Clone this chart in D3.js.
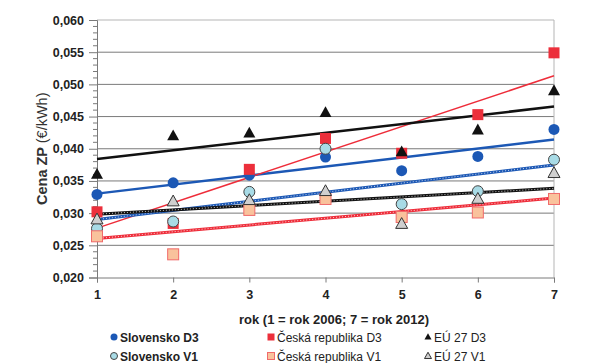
<!DOCTYPE html>
<html>
<head>
<meta charset="utf-8">
<script src="https://cdn.jsdelivr.net/npm/d3@7"></script>
<style>
  body { margin: 0; background: #fff; }
  text { font-family: "Liberation Sans", Arial, sans-serif; }
</style>
</head>
<body>
<svg id="price_chart" width="600" height="363"></svg>
<script>
// values
const years = [1, 2, 3, 4, 5, 6, 7];
const sk_d3 = [0.0329, 0.0347, 0.0359, 0.0387, 0.0366, 0.0388, 0.0430];
const cz_d3 = [0.0302, 0.0284, 0.0368, 0.0416, 0.0393, 0.0453, 0.0549];
const eu_d3 = [0.0360, 0.0420, 0.0424, 0.0456, 0.0395, 0.0429, 0.0490];
const sk_v1 = [0.0276, 0.0287, 0.0333, 0.0400, 0.0314, 0.0334, 0.0383];
const cz_v1 = [0.0264, 0.0236, 0.0305, 0.0322, 0.0294, 0.0301, 0.0322];
const eu_v1 = [0.0290, 0.0318, 0.0320, 0.0334, 0.0283, 0.0322, 0.0362];
const series_names = ["Slovensko D3", "Česká republika D3", "EÚ 27 D3",
                      "Slovensko V1", "Česká republika V1", "EÚ 27 V1"];
const y_ticks = [0.020, 0.025, 0.030, 0.035, 0.040, 0.045, 0.050, 0.055, 0.060];

const svg_price = d3.select("svg#price_chart");
const price_margin = { left: 97, right: 46, top: 20, bottom: 85.5 };
const price_width = svg_price.attr("width") - price_margin.left - price_margin.right;
const price_height = svg_price.attr("height") - price_margin.top - price_margin.bottom;

const series = [
  { name: series_names[0], values: sk_d3, shape: "circle", fill: "#1c58b5", stroke: "#1c58b5", line: "#1c58b5", lw: 2.5, dotted: false, bold: true },
  { name: series_names[1], values: cz_d3, shape: "square", fill: "#ec2f3b", stroke: "#ec2f3b", line: "#ee2d3a", lw: 1.5, dotted: false, bold: false },
  { name: series_names[2], values: eu_d3, shape: "triangle", fill: "#111", stroke: "#111", line: "#111", lw: 2.5, dotted: false, bold: false },
  { name: series_names[3], values: sk_v1, shape: "circle", fill: "#a8dbe6", stroke: "#444", line: "#1c58b5", lw: 3, dotted: true, bold: true },
  { name: series_names[4], values: cz_v1, shape: "square", fill: "#f9c29c", stroke: "#f06a6a", line: "#ee2d3a", lw: 3, dotted: true, bold: false },
  { name: series_names[5], values: eu_v1, shape: "triangle", fill: "#cfcfcf", stroke: "#333", line: "#111", lw: 3, dotted: true, bold: false }
];

const x_scale = d3.scaleLinear([1, 7], [0, price_width]);
const y_scale = d3.scaleLinear([0.020, 0.060], [price_height, 0]);
const fmt = d => d3.format(".3f")(d).replace(".", ",");

const chart = svg_price.append("g")
  .attr("transform", `translate(${price_margin.left}, ${price_margin.top})`);

// gridlines
chart.selectAll("line.grid")
  .data(y_ticks.slice(1, -1))
  .join("line")
  .attr("class", "grid")
  .attr("x1", 0).attr("x2", price_width)
  .attr("y1", d => y_scale(d)).attr("y2", d => y_scale(d))
  .attr("stroke", "#7a7a7a").attr("stroke-width", 1);

// plot border
chart.append("line")
  .attr("x1", 0).attr("x2", price_width).attr("y1", 0).attr("y2", 0)
  .attr("stroke", "#b5b5b5");
chart.append("line")
  .attr("x1", price_width).attr("x2", price_width).attr("y1", 0).attr("y2", price_height)
  .attr("stroke", "#b5b5b5");

// y axis
const y_axis = chart.append("g")
  .call(d3.axisLeft(y_scale).tickValues(y_ticks).tickFormat(fmt).tickSize(8).tickPadding(5));
y_axis.select(".domain").attr("stroke", "#7a7a7a");
y_axis.selectAll(".tick line").attr("stroke", "#7a7a7a");
y_axis.selectAll(".tick text")
  .attr("font-size", "12.5px").attr("font-weight", "bold").attr("fill", "#222");
const minor_ticks = d3.range(0.020, 0.0601, 0.001).filter(d => Math.round(d * 1000) % 5 !== 0);
chart.selectAll("line.minor")
  .data(minor_ticks)
  .join("line")
  .attr("class", "minor")
  .attr("x1", -4).attr("x2", 0)
  .attr("y1", d => y_scale(d)).attr("y2", d => y_scale(d))
  .attr("stroke", "#7a7a7a");

// x axis
const x_axis = chart.append("g")
  .attr("transform", `translate(0, ${price_height})`)
  .call(d3.axisBottom(x_scale).tickValues(years).tickFormat(d3.format("d")).tickSize(5).tickPadding(8));
x_axis.select(".domain").attr("stroke", "#7a7a7a");
x_axis.selectAll(".tick line").attr("stroke", "#7a7a7a");
x_axis.selectAll(".tick text")
  .attr("font-size", "12.5px").attr("font-weight", "bold").attr("fill", "#222");

// axis titles
const y_title = svg_price.append("text")
  .attr("transform", `translate(47, ${price_margin.top + price_height / 2}) rotate(-90)`)
  .attr("text-anchor", "middle")
  .attr("font-size", "14.5px")
  .attr("fill", "#333");
y_title.append("tspan").attr("font-weight", "bold").text("Cena ZP ");
y_title.append("tspan").text("(€/kWh)");

svg_price.append("text")
  .attr("x", 334).attr("y", 324)
  .attr("text-anchor", "middle")
  .attr("font-size", "13px").attr("font-weight", "bold")
  .attr("fill", "#222")
  .text("rok (1 = rok 2006; 7 = rok 2012)");

// trendlines (least squares, as in the spreadsheet)
function trend(values) {
  const mx = d3.mean(years), my = d3.mean(values);
  const slope = d3.sum(years, (x, i) => (x - mx) * (values[i] - my)) / d3.sum(years, x => (x - mx) ** 2);
  return [1, 7].map(x => [x, my + slope * (x - mx)]);
}
const trend_line = d3.line().x(d => x_scale(d[0])).y(d => y_scale(d[1]));

series.forEach(s => {
  chart.append("path")
    .attr("d", trend_line(trend(s.values)))
    .attr("fill", "none")
    .attr("stroke", s.line)
    .attr("stroke-width", s.lw);
  if (s.dotted) {
    chart.append("path")
      .attr("d", trend_line(trend(s.values)))
      .attr("fill", "none")
      .attr("stroke", "#fff")
      .attr("stroke-opacity", 0.75)
      .attr("stroke-width", 1)
      .attr("stroke-dasharray", "1,2");
  }
});

// markers
function draw_marker(g, shape, size) {
  if (shape === "circle") {
    return g.append("circle").attr("r", size / 2);
  } else if (shape === "square") {
    return g.append("rect").attr("x", -size / 2).attr("y", -size / 2).attr("width", size).attr("height", size);
  }
  const h = size * 0.9;
  return g.append("path").attr("d", `M0,${-h * 0.6}L${size / 2},${h * 0.4}L${-size / 2},${h * 0.4}Z`);
}

series.forEach(s => {
  s.values.forEach((v, i) => {
    const g = chart.append("g")
      .attr("transform", `translate(${x_scale(years[i])}, ${y_scale(v)})`);
    draw_marker(g, s.shape, s.shape === "triangle" ? 12 : 11)
      .attr("fill", s.fill)
      .attr("stroke", s.stroke)
      .attr("stroke-width", s.dotted ? 1 : 0);
  });
});

// legend
const legend_cols = [114, 271, 428];
const legend_rows = [337, 356];
series.forEach((s, i) => {
  const lx = legend_cols[i % 3], ly = legend_rows[Math.floor(i / 3)];
  const g = svg_price.append("g").attr("transform", `translate(${lx}, ${ly})`);
  draw_marker(g, s.shape, 7)
    .attr("fill", s.fill)
    .attr("stroke", s.stroke)
    .attr("stroke-width", s.dotted ? 1 : 0);
  g.append("text")
    .attr("x", 6).attr("y", 4.5)
    .attr("font-size", "12px")
    .attr("font-weight", s.bold ? "bold" : "normal")
    .attr("fill", "#222")
    .text(s.name);
});
</script>
</body>
</html>
